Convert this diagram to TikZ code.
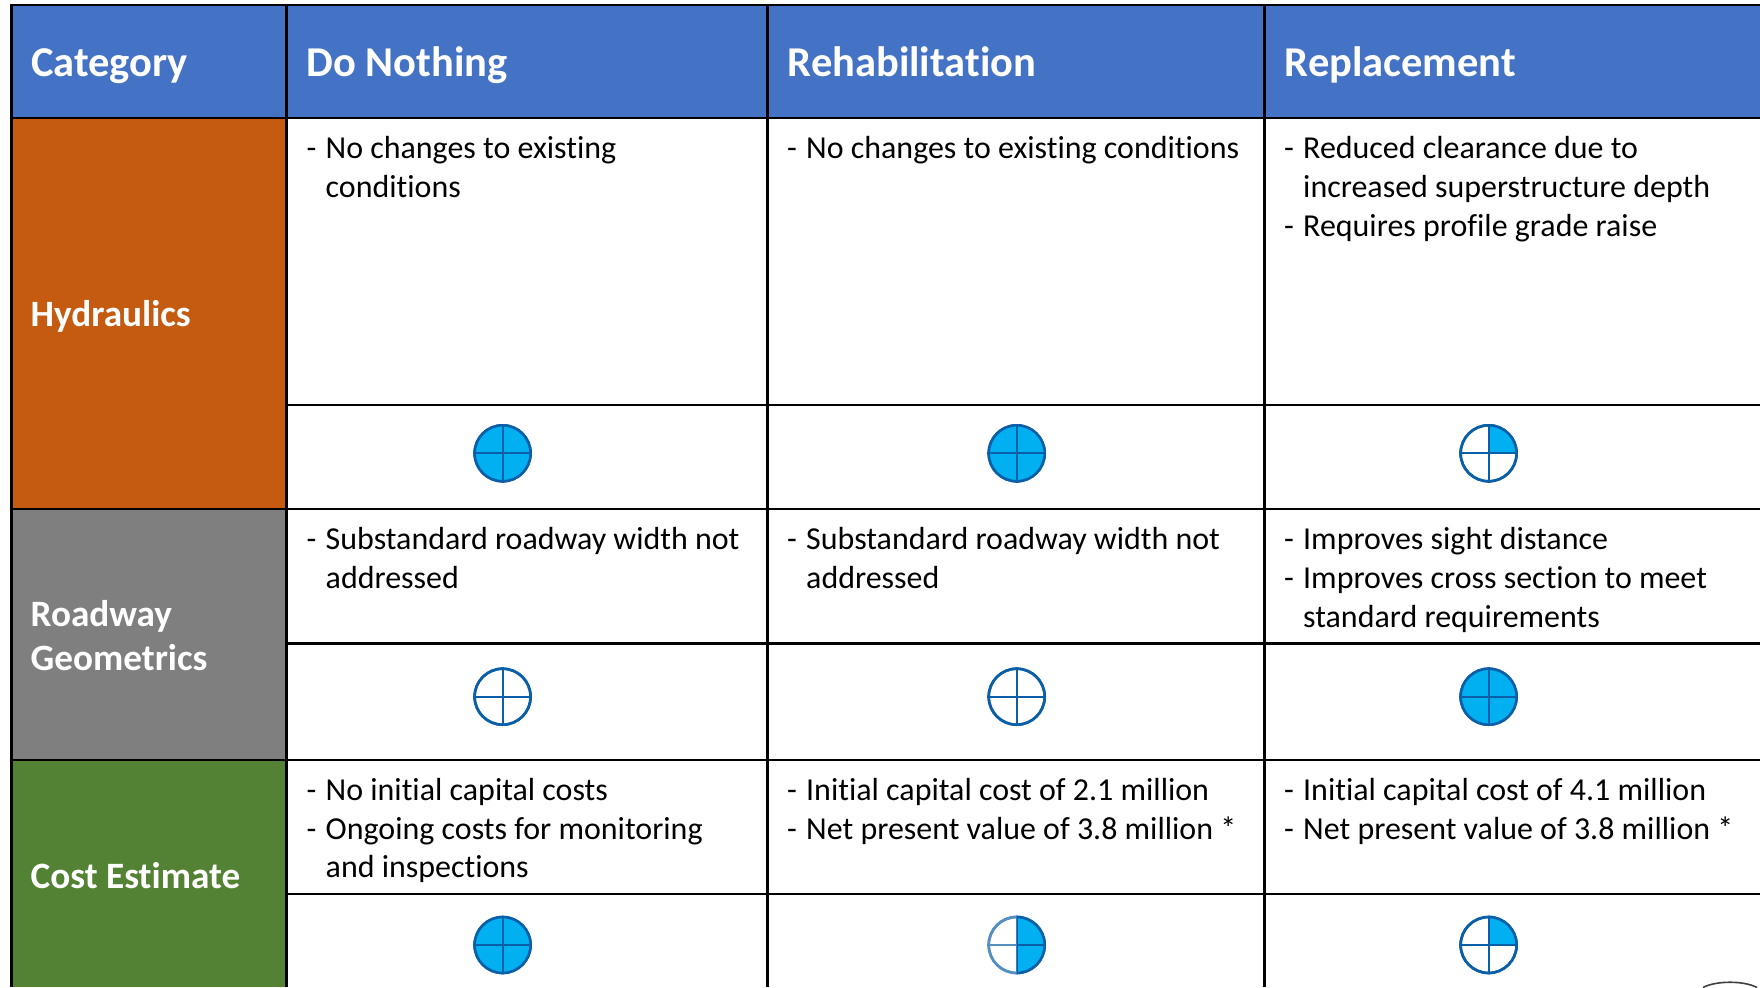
\documentclass[tikz,border=0pt]{standalone}
\usepackage{fontspec}
\setmainfont[RawFeature=-liga]{Carlito}
\definecolor{hdr}{HTML}{4472C4}
\definecolor{orng}{HTML}{C55A11}
\definecolor{gry}{HTML}{7F7F7F}
\definecolor{grn}{HTML}{548235}
\definecolor{ballfill}{HTML}{00B0F0}
\definecolor{ballline}{HTML}{0B5FA8}
\newcommand{\hb}{\rule{0pt}{24pt}\makebox[19pt][l]{-}}
\newcommand{\hc}{\hspace*{19pt}}
\tikzset{
  x=1pt,y=-1pt,
  gridline/.style={draw=black,line width=2.8pt},
  hdrtxt/.style={anchor=base west,inner sep=0pt,text=white,font=\fontsize{42.5pt}{46pt}\selectfont\bfseries},
  cattxt/.style={anchor=west,inner sep=0pt,text=white,align=left,font=\fontsize{37.2pt}{44.5pt}\selectfont\bfseries},
  celltxt/.style={anchor=north west,inner sep=0pt,text=black,align=left,font=\fontsize{31.95pt}{38.7pt}\selectfont},
  ball/.style={circle,minimum size=56pt,inner sep=0pt,draw=ballline,line width=2.6pt},
}
\newcommand{\ballat}[4]{%
  \node[ball] (#1) at (#2,#3) {};
  #4
  \draw[ballline,line width=2pt] (#1.north) -- (#1.south) (#1.west) -- (#1.east);
  \draw[ballline,line width=2.6pt] (#1) circle[radius=28pt];
}
\newcommand{\fullfill}[1]{\fill[ballfill] (#1) circle[radius=28pt];}
\newcommand{\halffill}[1]{\fill[ballfill] (#1.north) arc[start angle=90,end angle=-90,radius=28pt] -- cycle;}
\newcommand{\quarterfill}[1]{\fill[ballfill] (#1.center) -- (#1.north) arc[start angle=90,end angle=0,radius=28pt] -- cycle;}
\begin{document}
\begin{tikzpicture}
\useasboundingbox (0,0) rectangle (1760,987);
\fill[white] (0,0) rectangle (1760,987);
% fills
\fill[hdr] (11.5,5) rectangle (1760,118);
\fill[orng] (11.5,118) rectangle (287,509);
\fill[gry] (11.5,509) rectangle (287,760);
\fill[grn] (11.5,760) rectangle (287,987);
% grid
\draw[gridline] (11.5,987) -- (11.5,5);
\draw[gridline] (286.7,987) -- (286.7,5);
\draw[gridline] (767.6,987) -- (767.6,5);
\draw[gridline] (1264.5,987) -- (1264.5,5);
\draw[gridline] (10,5) -- (1760,5);
\draw[gridline] (11.5,118) -- (1760,118);
\draw[gridline] (286.7,405) -- (1760,405);
\draw[gridline] (11.5,509) -- (1760,509);
\draw[gridline] (286.7,643.5) -- (1760,643.5);
\draw[gridline] (11.5,760) -- (1760,760);
\draw[gridline] (286.7,894) -- (1760,894);
% headers
\node[hdrtxt] (h0) at (31,77) {Category};
\node[hdrtxt] (h1) at (306.5,77) {Do Nothing};
\node[hdrtxt] (h2) at (787.5,77) {Rehabilitation};
\node[hdrtxt] (h3) at (1284.5,77) {Replacement};
% categories
\node[cattxt] (c1) at (30.5,316.5) {Hydraulics};
\node[cattxt] (c2) at (30.5,635.5) {Roadway\\Geometrics};
\node[cattxt] (c3) at (30.5,876) {Cost Estimate};
% cells
\node[celltxt] (a11) at (306.5,134.5) {\hb No changes to existing\\\hc conditions};
\node[celltxt] (a12) at (787,134.5) {\hb No changes to existing conditions};
\node[celltxt] (a13) at (1284,134.5) {\hb Reduced clearance due to\\\hc increased superstructure depth\\\hb Requires profile grade raise};
\node[celltxt] (a21) at (306.5,525.5) {\hb Substandard roadway width not\\\hc addressed};
\node[celltxt] (a22) at (787,525.5) {\hb Substandard roadway width not\\\hc addressed};
\node[celltxt] (a23) at (1284,525.5) {\hb Improves sight distance\\\hb Improves cross section to meet\\\hc standard requirements};
\node[celltxt] (a31) at (306.5,776.3) {\hb No initial capital costs\\\hb Ongoing costs for monitoring\\\hc and inspections};
\node[celltxt] (a32) at (787,776.3) {\hb Initial capital cost of 2.1 million\\\hb Net present value of 3.8 million *};
\node[celltxt] (a33) at (1284,776.3) {\hb Initial capital cost of 4.1 million\\\hb Net present value of 3.8 million *};
% balls
\ballat{b11}{502.6}{453.3}{\fullfill{b11}}
\ballat{b12}{1016.7}{453.3}{\fullfill{b12}}
\ballat{b13}{1488.6}{453.3}{\quarterfill{b13}}
\ballat{b21}{502.6}{696.7}{}
\ballat{b22}{1016.7}{696.7}{}
\ballat{b23}{1488.6}{696.7}{\fullfill{b23}}
\ballat{b31}{502.6}{945}{\fullfill{b31}}
\ballat{b32}{1016.7}{945}{\halffill{b32}}
\ballat{b33}{1488.6}{945}{\quarterfill{b33}}
\fill[white,opacity=.3] (b32.north) arc[start angle=90,end angle=270,radius=30pt] -- cycle;
% partial arc at the lower right edge
\draw[black!75,line width=1.6pt] (1703,987.5) .. controls (1716,980.5) and (1744,980.5) .. (1757,987.5);
\end{tikzpicture}
\end{document}
